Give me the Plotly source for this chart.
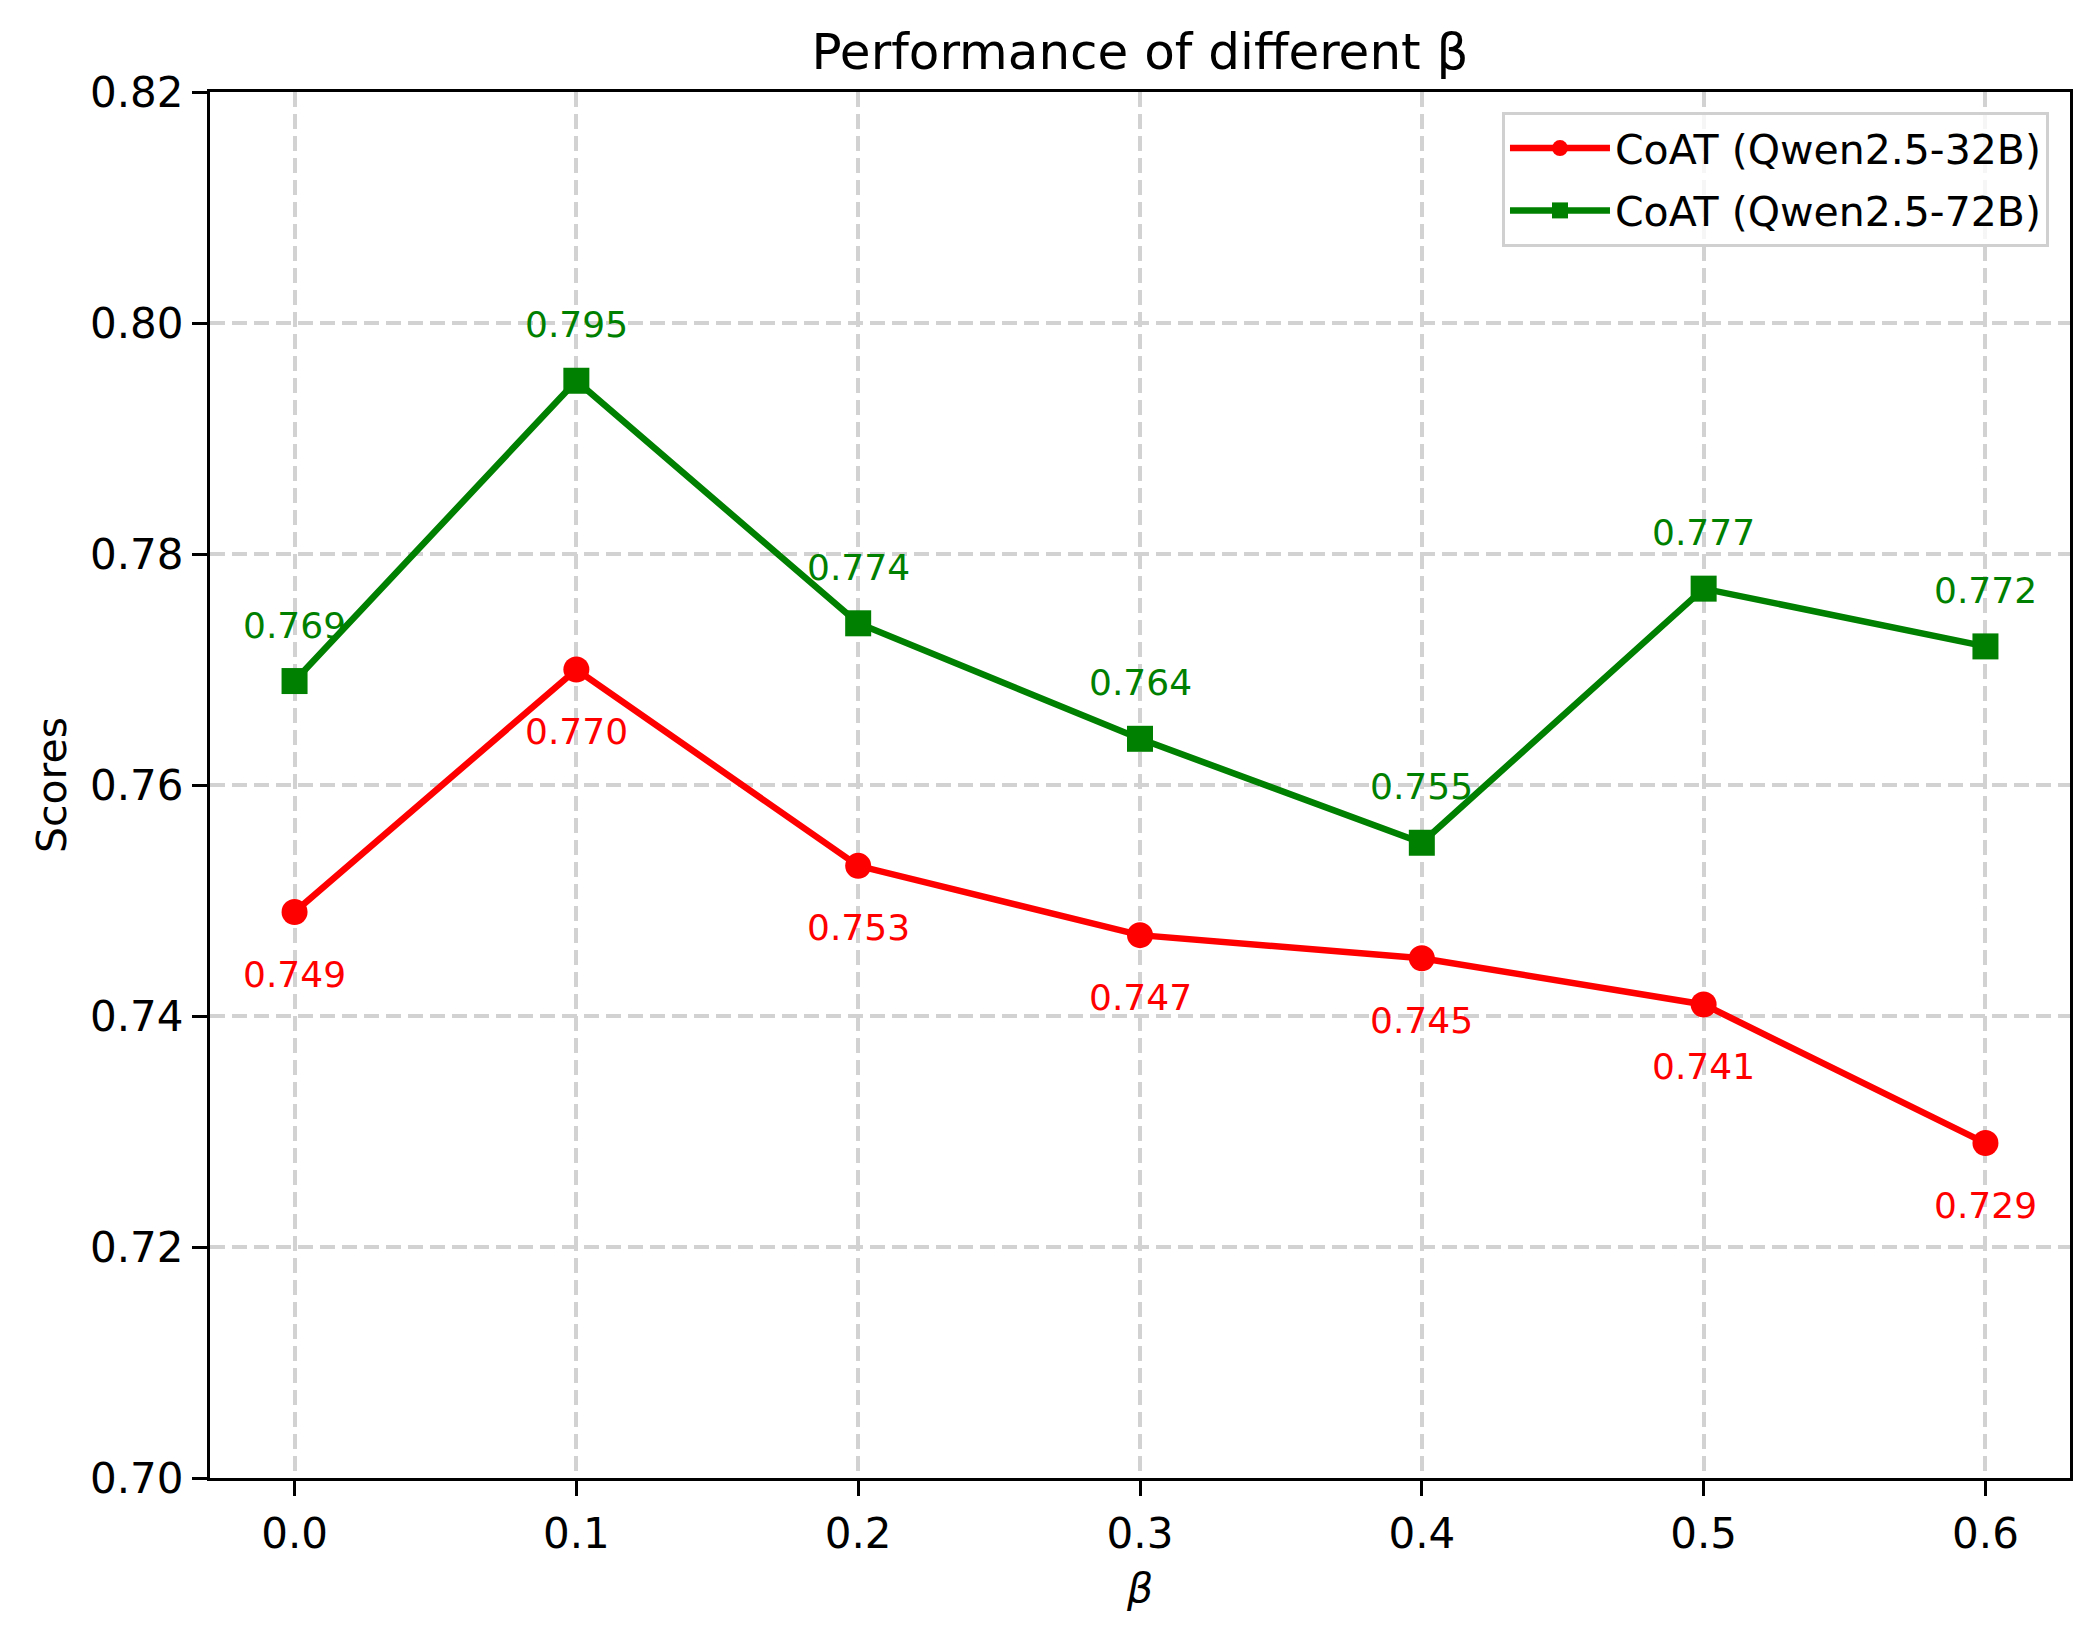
import plotly.graph_objects as go

beta = [0.0, 0.1, 0.2, 0.3, 0.4, 0.5, 0.6]
scores_32b = [0.749, 0.770, 0.753, 0.747, 0.745, 0.741, 0.729]
scores_72b = [0.769, 0.795, 0.774, 0.764, 0.755, 0.777, 0.772]
x_ticks = [0.0, 0.1, 0.2, 0.3, 0.4, 0.5, 0.6]
x_tick_labels = ["0.0", "0.1", "0.2", "0.3", "0.4", "0.5", "0.6"]
y_ticks = [0.70, 0.72, 0.74, 0.76, 0.78, 0.80, 0.82]
y_tick_labels = ["0.70", "0.72", "0.74", "0.76", "0.78", "0.80", "0.82"]

RED = "#ff0000"
GREEN = "#008000"
FONT = "DejaVu Sans"

fig = go.Figure()
fig.add_trace(go.Scatter(
    x=beta, y=scores_32b, mode="lines+markers", name="CoAT (Qwen2.5-32B)",
    legendgroup="a",
    line=dict(color=RED, width=6.5),
    marker=dict(symbol="circle", size=26, color=RED),
))
fig.add_trace(go.Scatter(
    x=beta, y=scores_72b, mode="lines+markers", name="CoAT (Qwen2.5-72B)",
    legendgroup="b",
    line=dict(color=GREEN, width=6.5),
    marker=dict(symbol="square", size=26, color=GREEN),
))

for xv, yv in zip(beta, scores_32b):
    fig.add_annotation(x=xv, y=yv, text=f"{yv:.3f}", showarrow=False,
                       yshift=-62, font=dict(family=FONT, size=36, color=RED))
for xv, yv in zip(beta, scores_72b):
    fig.add_annotation(x=xv, y=yv, text=f"{yv:.3f}", showarrow=False,
                       yshift=56, font=dict(family=FONT, size=36, color=GREEN))

axis_common = dict(
    showline=True, linecolor="black", linewidth=3.3, mirror=True,
    ticks="outside", ticklen=15, tickwidth=3.3, tickcolor="black",
    showgrid=True, gridcolor="#d2d2d2", gridwidth=3.5, griddash="15px,7px",
    zeroline=False,
    tickfont=dict(family=FONT, size=42, color="black"),
)

fig.update_layout(
    width=2100, height=1642,
    margin=dict(l=202, r=38, t=84, b=172),
    paper_bgcolor="white", plot_bgcolor="white",
    font=dict(family=FONT, color="black"),
    title=dict(text="Performance of different β", x=0.5, xref="paper", xanchor="center",
               y=1 - 43 / 1642, yanchor="middle",
               font=dict(family=FONT, size=50, color="black")),
    xaxis=dict(range=[-0.03, 0.63], tickvals=x_ticks, ticktext=x_tick_labels,
               ticklabelstandoff=1,
               title=dict(text="<i>β</i>", font=dict(family=FONT, size=41), standoff=17),
               **axis_common),
    yaxis=dict(range=[0.70, 0.82], tickvals=y_ticks, ticktext=y_tick_labels,
               ticklabelstandoff=0,
               title=dict(text="Scores", font=dict(family=FONT, size=41), standoff=11),
               **axis_common),
    legend=dict(x=0.9887, y=0.9856, xanchor="right", yanchor="top",
                bgcolor="rgba(255,255,255,0.8)", bordercolor="#d0d0d0", borderwidth=3,
                font=dict(family=FONT, size=41, color="black"),
                traceorder="grouped", tracegroupgap=6, itemwidth=100),
    showlegend=True,
)

fig.write_html("out.html")
